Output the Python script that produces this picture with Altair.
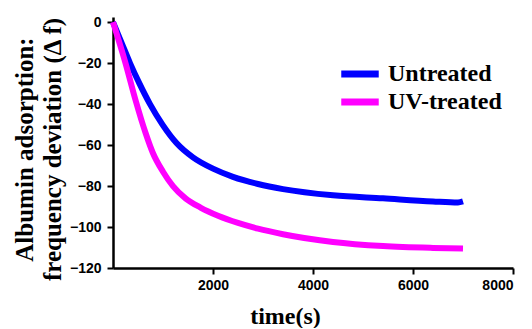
import altair as alt
import pandas as pd

untreated_t = [0, 170, 340, 530, 740, 990, 1270, 1600, 2000, 2400, 2900, 3400, 4400, 5400, 6400, 6900, 7000]
untreated_v = [0, -10, -20, -30, -40, -50, -59, -66, -71.5, -75.5, -79, -81.5, -84.5, -86, -87.5, -88, -87.5]
uv_t = [0, 250, 450, 650, 800, 1000, 1200, 1450, 1750, 2100, 2500, 2900, 3400, 4400, 5400, 6400, 7000]
uv_v = [0, -20, -38, -54, -64, -73, -80, -86, -90.5, -94.5, -98, -100.8, -103.5, -107.3, -109.3, -110.2, -110.5]
series = ["Untreated", "UV-treated"]
colors = ["#0000FF", "#FF00FF"]
x_ticks = [2000, 4000, 6000, 8000]
y_ticks = [0, -20, -40, -60, -80, -100, -120]

rows = []
for i, (t, v) in enumerate(zip(untreated_t, untreated_v)):
    rows.append({"t": t, "v": v, "s": series[0], "o": i})
for i, (t, v) in enumerate(zip(uv_t, uv_v)):
    rows.append({"t": t, "v": v, "s": series[1], "o": i})
df = pd.DataFrame(rows)

chart = alt.Chart(df).mark_line(strokeWidth=6, interpolate="monotone", strokeCap="butt").encode(
    x=alt.X("t:Q", scale=alt.Scale(domain=[0, 8000], nice=False),
            axis=alt.Axis(values=x_ticks, format="d", title="time(s)", grid=False,
                          titleX=172, titleY=55, titleBaseline="alphabetic", titleAlign="center",
                          titleFont="Liberation Serif", titleFontSize=24, titleFontWeight="bold",
                          labelFont="Liberation Sans", labelFontSize=14, labelFontWeight="bold",
                          labelPadding=4, tickSize=6, tickWidth=2, domainWidth=2.5,
                          domainColor="black", tickColor="black", labelColor="black", titleColor="black")),
    y=alt.Y("v:Q", scale=alt.Scale(domain=[-120, 2.5], nice=False),
            axis=alt.Axis(values=y_ticks, format="d", title=["Albumin adsorption:", "frequency deviation (Δ f)"], grid=False,
                          titleX=-101, titleY=132, titleBaseline="top", titleAlign="center", titleAngle=-90,
                          titleLineHeight=28,
                          titleFont="Liberation Serif", titleFontSize=25, titleFontWeight="bold",
                          labelFont="Liberation Sans", labelFontSize=14, labelFontWeight="bold",
                          labelPadding=6, tickSize=6, tickWidth=2, domainWidth=2.5,
                          domainColor="black", tickColor="black", labelColor="black", titleColor="black")),
    color=alt.Color("s:N", scale=alt.Scale(domain=series, range=colors),
                    legend=alt.Legend(title=None, orient="none", legendX=235, legendY=45,
                                      symbolType="M-3,0H3", symbolStrokeWidth=7, symbolSize=156,
                                      labelFont="Liberation Serif", labelFontSize=24, labelFontWeight="bold",
                                      labelColor="black", labelOffset=16, rowPadding=0)),
    order="o:Q",
).properties(
    width=400, height=251,
    autosize=alt.AutoSizeParams(type="none"),
    padding={"left": 105, "top": 9, "right": 11, "bottom": 60},
).configure_view(stroke=None)

chart.save("out.html", embed_options={"renderer": "svg", "actions": False})
